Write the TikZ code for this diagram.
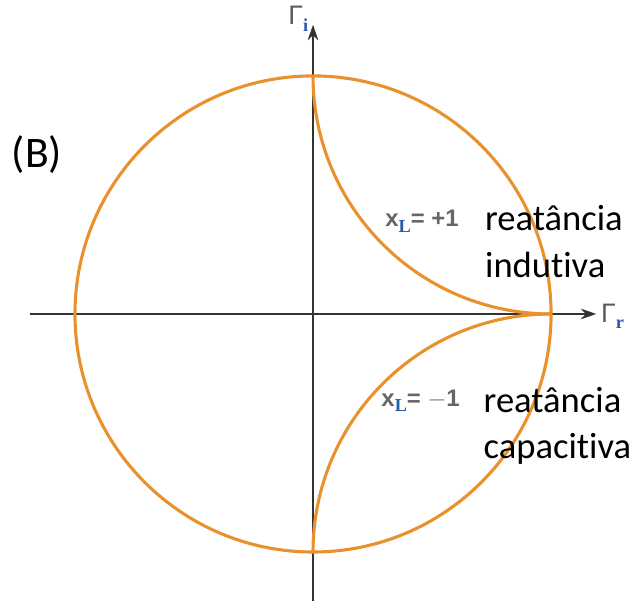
\documentclass[tikz,border=0pt]{standalone}
\usepackage{fontspec}
\setmainfont{Carlito}[Ligatures=NoCommon]
\newfontfamily\lblfont{Liberation Sans}
\newfontfamily\subfont{Liberation Serif}
\usepackage{tikz}
\usetikzlibrary{arrows.meta, positioning}

\definecolor{smithorange}{RGB}{232,145,45}
\definecolor{subblue}{RGB}{40,90,170}

\newcommand{\lowsub}[1]{\raisebox{-0.45ex}{\subfont\bfseries\fontsize{13}{13}\selectfont\textcolor{subblue}{#1}}}

\begin{document}
\begin{tikzpicture}[
    x=5.95cm, y=5.95cm,
    curve/.style={draw=smithorange, line width=2.2pt},
    axis/.style={-{Stealth[length=11pt, width=7.5pt]}, draw=black!80, line width=1.6pt},
    axlabel/.style={font=\lblfont\fontsize{19}{21}\selectfont, text=black!65, inner sep=0pt},
    xlabel/.style={font=\lblfont\bfseries\fontsize{17}{19}\selectfont, text=black!60, inner sep=0pt},
    note/.style={font=\fontsize{26}{33}\selectfont, align=left, inner sep=0pt}
]
\useasboundingbox (-1.315,-1.202) rectangle (1.340,1.319);

% eixos
\coordinate (xa) at (-1.189,0);
\coordinate (xb) at (1.19,0);
\coordinate (ya) at (0,-1.21);
\coordinate (yb) at (0,1.215);
\draw[axis] (xa) -- (xb);
\draw[axis] (ya) -- (yb);
\node (gi) [axlabel] at (-0.062,1.24) {Γ\lowsub{i}};
\node (gr) [axlabel] at (1.258,-0.01) {Γ\lowsub{r}};

% circulo |Gamma| = 1 e arcos x_L = +1, -1
\draw[curve] (0,0) circle (1);
\draw[curve] (0,1) arc (180:270:1);
\draw[curve] (0,-1) arc (180:90:1);

\node (xp) [xlabel] at (0.458,0.39) {x\lowsub{L}= +1};
\node (xm) [xlabel] at (0.452,-0.365) {x\lowsub{L}= $-$1};
\node (ind) [note, anchor=west] at (0.722,0.305) {reatância\\indutiva};
\node (cap) [note, anchor=west] at (0.716,-0.47) {reatância\\capacitiva};
\node (lbl) [note, font=\fontsize{31}{33}\selectfont] at (-1.16,0.668) {(B)};
\end{tikzpicture}
\end{document}
